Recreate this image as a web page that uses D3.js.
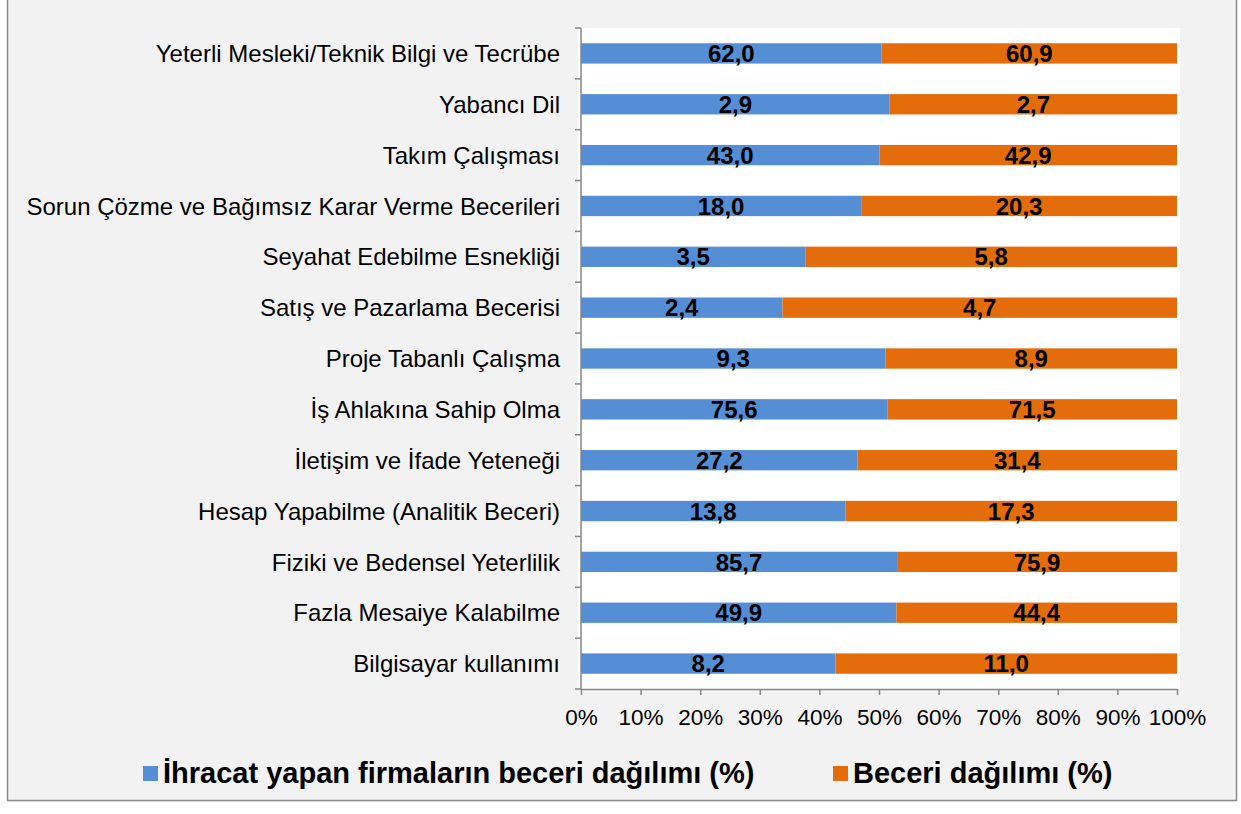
<!DOCTYPE html>
<html>
<head>
<meta charset="utf-8">
<script src="https://cdn.jsdelivr.net/npm/d3@7"></script>
<style>
  body { margin: 0; background: #fff; }
  text { font-family: "Liberation Sans", Arial, sans-serif; }
</style>
</head>
<body>
<div class="chart"></div>
<script>
var width = 1241,
    height = 814;

var categories = [
  "Yeterli Mesleki/Teknik Bilgi ve Tecrübe",
  "Yabancı Dil",
  "Takım Çalışması",
  "Sorun Çözme ve Bağımsız Karar Verme Becerileri",
  "Seyahat Edebilme Esnekliği",
  "Satış ve Pazarlama Becerisi",
  "Proje Tabanlı Çalışma",
  "İş Ahlakına Sahip Olma",
  "İletişim ve İfade Yeteneği",
  "Hesap Yapabilme (Analitik Beceri)",
  "Fiziki ve Bedensel Yeterlilik",
  "Fazla Mesaiye Kalabilme",
  "Bilgisayar kullanımı"
];
var exporters = [62.0, 2.9, 43.0, 18.0, 3.5, 2.4, 9.3, 75.6, 27.2, 13.8, 85.7, 49.9, 8.2];
var overall   = [60.9, 2.7, 42.9, 20.3, 5.8, 4.7, 8.9, 71.5, 31.4, 17.3, 75.9, 44.4, 11.0];
var seriesNames = ["İhracat yapan firmaların beceri dağılımı (%)", "Beceri dağılımı (%)"];
var colors = ["#558ed5", "#e46c0a"];
var xTicks = [0, 0.1, 0.2, 0.3, 0.4, 0.5, 0.6, 0.7, 0.8, 0.9, 1];

var margin = {left: 581, right: 64, top: 28, bottom: 125};

var svg = d3.select(".chart").append("svg")
    .attr("width", width)
    .attr("height", height)

// outer frame
svg.append("rect")
    .attr("x", 7.5).attr("y", -2)
    .attr("width", 1229).attr("height", 802.5)
    .attr("fill", "#f2f2f2")
    .attr("stroke", "#898989")
    .attr("stroke-width", 1.5)

var x = d3.scaleLinear().domain([0, 1]).range([margin.left, width - margin.right]);
var y = d3.scaleBand().domain(categories).range([margin.top, height - margin.bottom]).paddingInner(0.6).paddingOuter(0.3);

// white plot area
svg.append("rect")
    .attr("x", x(0) - 3).attr("y", margin.top)
    .attr("width", x(1) - x(0) + 6).attr("height", height - margin.bottom - margin.top)
    .attr("fill", "#fff")

var rows = categories.map(function(c, i){
  var tot = exporters[i] + overall[i];
  return {cat: c, a: exporters[i], b: overall[i], p: exporters[i] / tot};
});

var g = svg.append("g");

var row = g.selectAll(".row").data(rows).enter().append("g")
    .attr("class", "row")
    .attr("transform", function(d){ return "translate(0," + y(d.cat) + ")"; });

row.append("rect")
    .attr("x", x(0))
    .attr("width", function(d){ return x(d.p) - x(0); })
    .attr("height", y.bandwidth())
    .attr("fill", colors[0])
row.append("rect")
    .attr("x", function(d){ return x(d.p); })
    .attr("width", function(d){ return x(1) - x(d.p); })
    .attr("height", y.bandwidth())
    .attr("fill", colors[1])

var fmt = function(v){ return v.toFixed(1).replace(".", ","); };

row.append("text")
    .attr("x", function(d){ return (x(0) + x(d.p)) / 2; })
    .attr("y", y.bandwidth() / 2)
    .attr("dy", "0.36em")
    .attr("text-anchor", "middle")
    .attr("font-weight", "bold")
    .attr("font-size", 24)
    .text(function(d){ return fmt(d.a); })
row.append("text")
    .attr("x", function(d){ return (x(d.p) + x(1)) / 2; })
    .attr("y", y.bandwidth() / 2)
    .attr("dy", "0.36em")
    .attr("text-anchor", "middle")
    .attr("font-weight", "bold")
    .attr("font-size", 24)
    .text(function(d){ return fmt(d.b); })

// y axis with ticks between categories
var yb = margin.top, ye = height - margin.bottom;
var step = (ye - yb) / categories.length;
var ax = svg.append("g").attr("stroke", "#868686").attr("stroke-width", 1.5);
ax.append("line").attr("x1", x(0)).attr("x2", x(0)).attr("y1", yb).attr("y2", ye)
ax.selectAll(".yt").data(d3.range(categories.length + 1)).enter().append("line")
    .attr("x1", x(0) - 6).attr("x2", x(0))
    .attr("y1", function(i){ return yb + i * step; })
    .attr("y2", function(i){ return yb + i * step; })

svg.selectAll(".cat").data(categories).enter().append("text")
    .attr("x", x(0) - 21)
    .attr("y", function(d){ return y(d) + y.bandwidth() / 2; })
    .attr("dy", "0.36em")
    .attr("text-anchor", "end")
    .attr("font-size", 24)
    .attr("fill", "#000")
    .text(function(d){ return d; })

// x axis
var xAxis = svg.append("g")
    .attr("transform", "translate(0," + ye + ")")
    .call(d3.axisBottom(x).tickValues(xTicks).tickFormat(d3.format(".0%")).tickSize(6).tickSizeOuter(0));
xAxis.select(".domain").attr("stroke", "#868686").attr("stroke-width", 1.5);
xAxis.selectAll(".tick line").attr("stroke", "#868686").attr("stroke-width", 1.5);
xAxis.selectAll(".tick text")
    .attr("font-size", 22.5)
    .attr("font-family", "Liberation Sans, Arial, sans-serif")
    .attr("fill", "#000")
    .attr("y", 20)
    .attr("dy", "0.71em")

// legend
var legendX = [143, 833];
var lg = svg.selectAll(".legend").data(seriesNames).enter().append("g")
    .attr("transform", function(d, i){ return "translate(" + legendX[i] + ",773)"; });
lg.append("rect").attr("x", 0).attr("y", -7).attr("width", 15).attr("height", 15)
    .attr("fill", function(d, i){ return colors[i]; })
lg.append("text").attr("x", 20).attr("dy", "0.36em")
    .attr("font-size", 29).attr("font-weight", "bold")
    .text(function(d){ return d; })
</script>
</body>
</html>
